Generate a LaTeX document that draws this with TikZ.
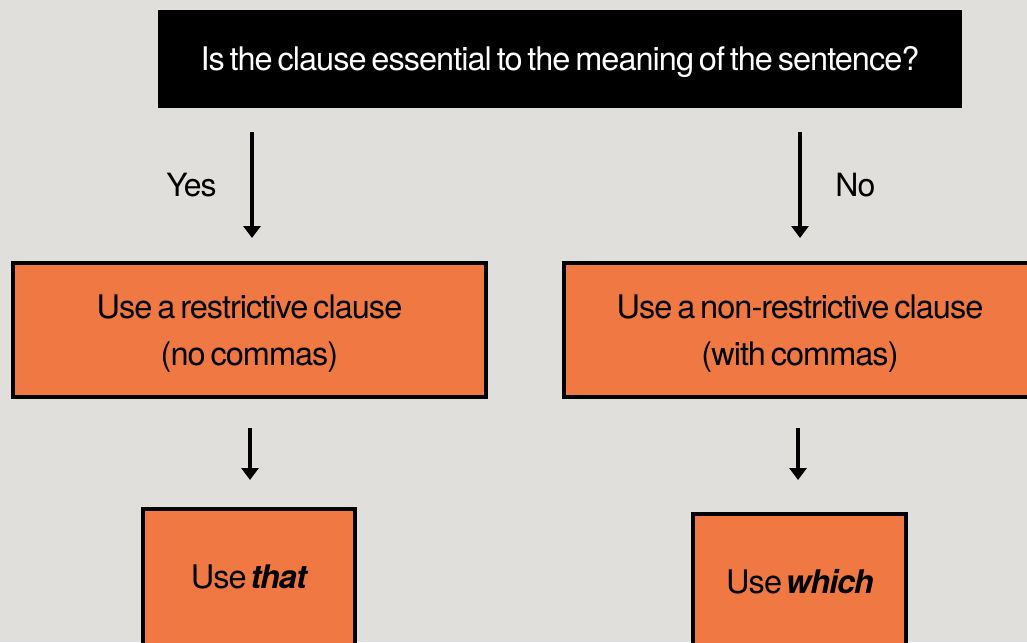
\documentclass[tikz,border=0pt]{standalone}
\usepackage{fontspec}
\setmainfont{TeX Gyre Heros}[LetterSpace=-3,WordSpace=0.6]
\usetikzlibrary{positioning, arrows.meta}

\definecolor{paper}{RGB}{224,223,219}
\definecolor{rust}{RGB}{239,120,67}

\begin{document}
\begin{tikzpicture}[x=1pt,y=-1pt,>={Triangle[length=12pt,width=17pt]},
  box/.style={draw,fill=rust,line width=4pt,align=center,
              font=\fontsize{32.5}{47}\selectfont,text height=23.3pt,text depth=0pt},
  lbl/.style={font=\fontsize{32}{38}\selectfont,text height=23pt,text depth=0pt}]
  \clip (0,0) rectangle (1027,642);
  \fill[paper] (0,0) rectangle (1027,642);

  % Create nodes
  \node[fill=black,text=white,minimum width=804pt,minimum height=98pt,
        font=\fontsize{32.5}{38}\selectfont,text height=23.3pt,text depth=0pt] (Q) at (560,59)
        {Is the clause essential to the meaning of the sentence?};
  \node[box,minimum width=473pt,minimum height=134pt,text height=70.3pt] (R) at (249.5,330)
        {Use a restrictive clause\\(no commas)};
  \node[box,minimum width=472pt,minimum height=134pt,text height=70.3pt] (N) at (800,330)
        {Use a non-restrictive clause\\(with commas)};
  \node[box,minimum width=212pt,minimum height=136pt] (T) at (249,577)
        {Use \textbf{\textit{that}}};
  \node[box,minimum width=213pt,minimum height=136pt] (W) at (799.5,582)
        {Use \textbf{\textit{which}}};

  % Arrows
  \path[->,line width=4pt] (Q.south -| 252,0) edge[shorten <=24pt,shorten >=23pt]
        node[lbl,left=30pt] {Yes} (252,261);
  \path[->,line width=4pt] (Q.south -| N.north) edge[shorten <=24pt,shorten >=23pt]
        node[lbl,right=30pt] {No} (800,261);
  \path[->,line width=4pt] (250,399) edge[shorten <=29pt,shorten >=27pt] (T.north -| 250,0);
  \path[->,line width=4pt] (798,399) edge[shorten <=29pt,shorten >=32pt] (W.north -| 798,0);
\end{tikzpicture}
\end{document}
